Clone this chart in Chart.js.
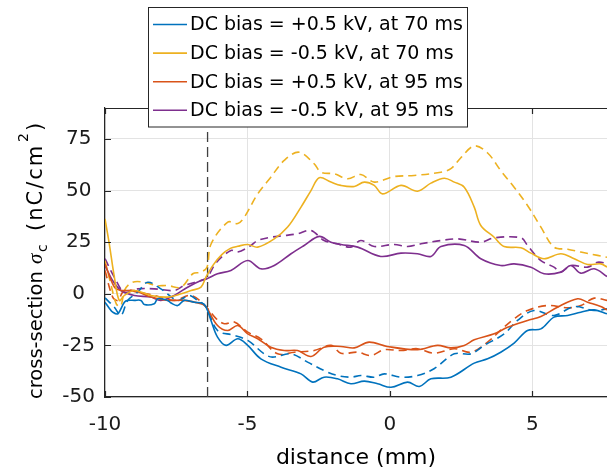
<!DOCTYPE html>
<html>
<head>
<meta charset="utf-8">
<script src="https://cdn.jsdelivr.net/npm/chart.js"></script>
<style>
  html, body { margin: 0; padding: 0; background: #fff; overflow: hidden; }
  canvas { display: block; }
</style>
</head>
<body>
<canvas id="chart" width="607" height="472"></canvas>
<script>
// legend text + MATLAB default colours
const seriesLabels = [
    'DC bias = +0.5 kV, at 70 ms',
    'DC bias = -0.5 kV, at 70 ms',
    'DC bias = +0.5 kV, at 95 ms',
    'DC bias = -0.5 kV, at 95 ms'
];
const seriesColors = ['#0072BD', '#EDB120', '#D95319', '#7E2F8E'];

// +0.5 kV, 70 ms
const posBias70X = [-10, -9.85, -9.73, -9.55, -9.32, -9.2, -8.97, -8.74, -8.62, -8.27, -8.15, -7.8, -7.68, -7.45, -7.22, -6.87, -6.6, -6.46, -6.28, -6.05, -5.75, -5.34, -4.99, -4.53, -3.82, -3.12, -2.71, -2.31, -1.84, -1.37, -0.9, -0.43, 0.04, 0.62, 1.03, 1.44, 2.14, 2.96, 3.43, 3.89, 4.36, 4.83, 5.3, 5.76, 6.24, 6.7, 7.17, 7.62];
const posBias70Y = [-4.1, -7, -8.9, -9.7, -4.1, -3.2, -3.2, -3.2, -5.2, -4.8, -2.4, -3.2, -4.5, -5.7, -3.2, -4.1, -4.5, -6.2, -12.9, -21, -25, -21.8, -25, -31.5, -35.6, -38.8, -42.8, -40.4, -41.2, -43.6, -42.3, -43.6, -45.3, -42.8, -44.9, -41.2, -40.4, -33.6, -31.5, -28.3, -23.9, -17.8, -17, -11.3, -10.5, -8.9, -7.8, -9.7];
const posBias70DashX = [-10, -9.67, -9.44, -9.2, -8.85, -8.5, -8.04, -7.45, -7.05, -6.75, -6.46, -6.05, -5.5, -4.99, -4.41, -4.12, -3.47, -2.89, -2.31, -1.84, -1.37, -1.02, -0.55, -0.2, 0.39, 0.97, 1.55, 2.26, 2.84, 3.31, 4.01, 4.48, 5.06, 5.76, 6.47, 7.17, 7.62];
const posBias70DashY = [-2, -6.5, -10.5, -3.2, 0.8, 5.6, 2.4, -3.2, -0.8, -3.2, -6.2, -17.8, -20, -22.6, -29.1, -30.7, -29.1, -33.1, -37.2, -39.6, -40.4, -39.6, -40.4, -38.8, -40.4, -39.6, -36.3, -29.1, -29.1, -25, -19.4, -12.9, -8.1, -10.5, -6.2, -8.1, -7.3];

// -0.5 kV, 70 ms
const negBias70X = [-10, -9.85, -9.67, -9.5, -9.32, -8.97, -8.39, -7.8, -7.33, -6.98, -6.63, -6.46, -6.2, -5.9, -5.6, -5.34, -4.99, -4.64, -4.06, -3.59, -3.12, -2.77, -2.48, -2.07, -1.72, -1.25, -0.9, -0.55, -0.26, 0.39, 0.97, 1.44, 1.91, 2.26, 2.61, 2.96, 3.19, 3.66, 4.01, 4.6, 4.95, 5.41, 6.0, 6.47, 6.94, 7.4, 7.62];
const negBias70Y = [36.3, 24.2, 8, -3.2, -0.8, 1.6, -0.8, -1.6, 0, 1.6, 3.2, 8, 14, 19, 22, 23, 23.9, 22.6, 26.6, 32.3, 42, 50, 56.2, 54.1, 52.5, 52, 54.1, 52.5, 48.4, 52.5, 49.7, 53.6, 56, 54.1, 51.6, 42, 33.1, 27.4, 22.9, 22.3, 19.7, 17, 19.4, 17, 14.2, 14.5, 13];
const negBias70DashX = [-10, -9.8, -9.6, -9.45, -9.3, -9.03, -8.62, -8.2, -7.8, -7.33, -6.92, -6.63, -6.42, -6.28, -5.69, -5.34, -5.11, -4.64, -4.18, -3.71, -3.19, -2.66, -2.42, -1.95, -1.48, -1.02, -0.55, 0.15, 0.85, 1.79, 2.14, 2.49, 2.96, 3.43, 3.89, 4.36, 4.83, 5.3, 5.76, 6.24, 6.7, 7.29, 7.62];
const negBias70DashY = [16, 5, -5, -6, 2, 5.6, 5.6, 4, 4, 3.2, 9.7, 10.5, 12.9, 24, 34.7, 34, 37.1, 48.4, 56.5, 64.6, 68.6, 63, 58.9, 58.1, 55.7, 57.8, 54.1, 56.8, 57.3, 58.9, 60.6, 65.9, 71.6, 68.2, 59.7, 51.6, 42.8, 32.3, 22.6, 21.6, 20.2, 18.6, 17.7];

// +0.5 kV, 95 ms
const posBias95X = [-10, -9.67, -9.44, -8.97, -8.39, -7.8, -7.22, -6.63, -6.46, -6.05, -5.69, -5.34, -4.99, -4.64, -4.18, -3.71, -3.24, -2.77, -2.31, -1.72, -1.25, -0.73, -0.1, 0.97, 1.67, 2.14, 2.61, 2.96, 3.66, 4.13, 4.83, 5.3, 5.88, 6.59, 6.94, 7.4, 7.62];
const posBias95Y = [14.5, 3.2, 1.6, 1.6, -1.6, -3.2, -3.2, -4.8, -6.2, -15.4, -17.8, -15.4, -19.4, -21.8, -25.9, -27.5, -27.5, -30.4, -25.9, -25.5, -26.2, -23.4, -25.5, -27.1, -25, -26.2, -25, -22.3, -19.4, -16.2, -12.9, -11, -6.5, -2.4, -4.1, -6.2, -7.8];
const posBias95DashX = [-10, -9.73, -9.55, -9.32, -8.85, -8.27, -7.57, -6.98, -6.46, -6.1, -5.81, -5.46, -4.99, -4.53, -3.94, -3.36, -2.66, -2.07, -1.72, -1.13, -0.67, -0.2, 0.39, 0.97, 1.55, 2.26, 2.84, 3.43, 3.9, 4.36, 4.83, 5.53, 6.24, 6.7, 7.17, 7.62];
const posBias95DashY = [11.3, -1.6, -3.2, 1.6, 0.8, -0.8, -3.2, -0.8, -6.2, -12, -14.5, -13.7, -18.6, -21.8, -29.1, -28.3, -27.5, -25, -28.8, -28.3, -29.9, -27.1, -27.5, -26.6, -28.8, -26.6, -28.3, -23.4, -17.5, -12.1, -8.1, -5.7, -6.8, -5.7, -2.1, -3.2];

// -0.5 kV, 95 ms
const negBias95X = [-10, -9.73, -9.44, -8.97, -8.39, -8.04, -7.57, -7.1, -6.63, -6.42, -6.05, -5.58, -4.99, -4.53, -4.06, -3.47, -3.01, -2.48, -2.07, -1.72, -1.13, -0.32, 0.39, 0.97, 1.44, 1.79, 2.61, 3.19, 3.89, 4.36, 4.95, 5.41, 6.0, 6.35, 6.7, 7.17, 7.62];
const negBias95Y = [13.7, 6.4, 1.6, -0.8, -1.6, -3.2, -0.8, 3.2, 6.4, 7.3, 9.7, 11.3, 16.1, 12.1, 13.7, 19.4, 23.4, 27.8, 25, 23.9, 22.6, 18.1, 19.7, 19.4, 18.1, 22.9, 23.4, 17, 13.7, 14.5, 12.9, 9.7, 10.5, 13.7, 10, 12.1, 8.4];
const negBias95DashX = [-10, -9.67, -9.32, -8.85, -8.27, -7.57, -7.22, -6.63, -6.42, -6.1, -5.58, -5.34, -4.88, -4.64, -4.18, -3.71, -3.24, -2.77, -2.31, -1.84, -1.37, -1.02, -0.55, 0.15, 0.62, 1.09, 1.79, 2.38, 3.19, 3.66, 4.6, 4.83, 5.3, 5.76, 6.0, 6.35, 6.94, 7.29, 7.62];
const negBias95DashY = [17, 8, 0.8, 2.4, 2.4, 1.6, 4, 6.4, 7.7, 15, 21, 20.2, 23.4, 25.8, 27.4, 28.2, 29.1, 30.7, 25.8, 24.2, 22.6, 25.8, 22.9, 23.9, 22.9, 24.2, 25.8, 26.6, 25, 27.1, 27.1, 23.4, 16.1, 12.9, 10.5, 13.7, 12.9, 15.3, 14.7];

// vertical dashed marker
const markerX = -6.4;
const markerY = [-50, 90];

function toPoints(xs, ys) {
    return xs.map((x, i) => ({ x: x, y: ys[i] }));
}

const solidSets = [
    [posBias70X, posBias70Y],
    [negBias70X, negBias70Y],
    [posBias95X, posBias95Y],
    [negBias95X, negBias95Y]
];
const dashedSets = [
    [posBias70DashX, posBias70DashY],
    [negBias70DashX, negBias70DashY],
    [posBias95DashX, posBias95DashY],
    [negBias95DashX, negBias95DashY]
];

const datasets = [];
solidSets.forEach((s, i) => {
    datasets.push({
        label: seriesLabels[i],
        data: toPoints(s[0], s[1]),
        borderColor: seriesColors[i]
    });
});
dashedSets.forEach((s, i) => {
    datasets.push({
        label: seriesLabels[i] + ' (dashed)',
        data: toPoints(s[0], s[1]),
        borderColor: seriesColors[i],
        borderDash: [8, 5]
    });
});
datasets.push({
    label: 'marker',
    data: markerY.map(y => ({ x: markerX, y: y })),
    borderColor: '#404040',
    borderWidth: 1.3,
    borderDash: [10, 5],
    tension: 0
});

const tickFont = { family: 'DejaVu Sans', size: 20 };

// y title pieces: text, font, offset along the axis, shift across it, letter spacing
const yTitleParts = [
    ['cross-section', '19.5px "DejaVu Sans"', 0, 0, 0],
    ['\u03C3', 'italic 21px "Liberation Serif"', 135, 0, 0],
    ['c', '14px "DejaVu Sans"', 147, 5, 0],
    ['(nC/cm', '21px "DejaVu Sans"', 168, 0, 2],
    ['2', '14px "DejaVu Sans"', 257, -14, 0],
    [')', '21px "DejaVu Sans"', 268, 0, 0]
];

const matlabFrame = {
    id: 'matlabFrame',
    afterDraw(chart) {
        const ctx = chart.ctx;
        const a = chart.chartArea;
        const xs = chart.scales.x;
        const ys = chart.scales.y;

        ctx.save();
        // top box edge + inward ticks
        ctx.strokeStyle = '#262626';
        ctx.lineWidth = 1.2;
        ctx.beginPath();
        ctx.moveTo(a.left, a.top + 0.5);
        ctx.lineTo(a.right, a.top + 0.5);
        xs.ticks.forEach(t => {
            const px = Math.round(xs.getPixelForValue(t.value)) + 0.5;
            ctx.moveTo(px, a.bottom);
            ctx.lineTo(px, a.bottom - 6);
            ctx.moveTo(px, a.top);
            ctx.lineTo(px, a.top + 6);
        });
        ys.ticks.forEach(t => {
            const py = Math.round(ys.getPixelForValue(t.value)) + 0.5;
            ctx.moveTo(a.left, py);
            ctx.lineTo(a.left + 6, py);
        });
        ctx.stroke();

        // y axis title with sub/superscript
        ctx.fillStyle = '#000';
        ctx.textBaseline = 'alphabetic';
        ctx.textAlign = 'left';
        ctx.translate(42, 399);
        ctx.rotate(-Math.PI / 2);
        yTitleParts.forEach(p => {
            ctx.font = p[1];
            ctx.letterSpacing = p[4] + 'px';
            ctx.fillText(p[0], p[2], p[3]);
        });
        ctx.restore();

        // legend box drawn over the axes
        ctx.save();
        ctx.fillStyle = '#fff';
        ctx.fillRect(148.5, 7.5, 319, 119.5);
        ctx.strokeStyle = '#262626';
        ctx.lineWidth = 1;
        ctx.strokeRect(148.5, 7.5, 319, 119.5);
        ctx.font = '19px "DejaVu Sans"';
        ctx.textBaseline = 'middle';
        ctx.textAlign = 'left';
        seriesLabels.forEach((label, i) => {
            const y = 24.5 + i * 28.6;
            ctx.strokeStyle = seriesColors[i];
            ctx.lineWidth = 1.6;
            ctx.beginPath();
            ctx.moveTo(153, y);
            ctx.lineTo(187, y);
            ctx.stroke();
            ctx.fillStyle = '#000';
            ctx.fillText(label, 190, y + 1);
        });
        ctx.restore();
    }
};

new Chart(document.getElementById('chart'), {
    type: 'line',
    data: { datasets: datasets },
    options: {
        responsive: false,
        animation: false,
        devicePixelRatio: 1,
        layout: { padding: { top: 108, left: 0, right: 0, bottom: 0 } },
        plugins: {
            legend: { display: false },
            tooltip: { enabled: false }
        },
        elements: {
            point: { radius: 0 },
            line: { tension: 0.35, borderWidth: 1.6, fill: false }
        },
        scales: {
            x: {
                type: 'linear',
                min: -10,
                max: 7.62,
                afterFit(scale) { scale.height = 75; },
                ticks: {
                    stepSize: 5,
                    includeBounds: false,
                    maxRotation: 0,
                    font: tickFont,
                    color: '#1a1a1a',
                    padding: 16
                },
                grid: { color: '#e3e3e3', lineWidth: 1, drawTicks: false },
                border: { color: '#262626', width: 1.2 },
                title: {
                    display: true,
                    text: 'distance (mm)',
                    font: { family: 'DejaVu Sans', size: 22 },
                    color: '#000',
                    padding: { top: 0, bottom: 1 }
                }
            },
            y: {
                type: 'linear',
                min: -50,
                max: 90,
                afterFit(scale) { scale.width = 105; },
                ticks: {
                    stepSize: 25,
                    includeBounds: false,
                    crossAlign: 'center',
                    font: tickFont,
                    color: '#1a1a1a',
                    padding: 10
                },
                grid: { color: '#e3e3e3', lineWidth: 1, drawTicks: false },
                border: { color: '#262626', width: 1.2 }
            }
        }
    },
    plugins: [matlabFrame]
});
</script>
</body>
</html>
